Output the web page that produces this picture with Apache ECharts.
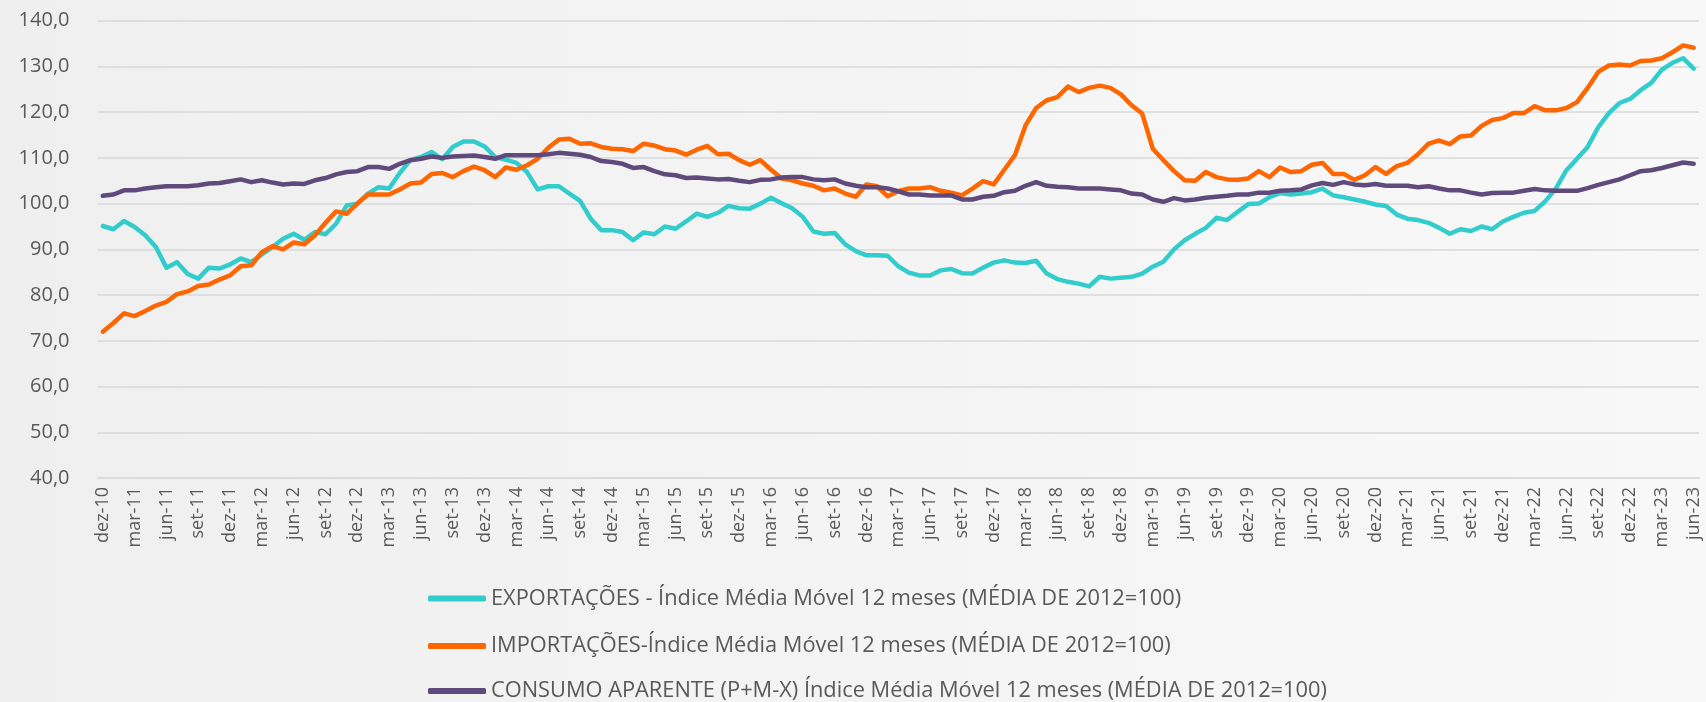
<!DOCTYPE html>
<html lang="pt">
<head>
    <meta charset="UTF-8">
    <title>Índices média móvel 12 meses</title>
    <style>
        * {
            margin: 0;
            padding: 0;
            box-sizing: border-box;
        }

        html, body {
            width: 1706px;
            height: 702px;
            overflow: hidden;
            background: linear-gradient(90deg, #efefef 0%, #f4f4f5 50%, #f8f8f9 100%);
        }

        #chart {
            width: 1706px;
            height: 702px;
        }
    </style>
    <script src="https://cdn.jsdelivr.net/npm/echarts@6/dist/echarts.min.js"></script>
</head>
<body>
<div id="chart"></div>
<script type="text/javascript">
    var meses = [
        'dez-10',
        'jan-11', 'fev-11', 'mar-11', 'abr-11', 'mai-11', 'jun-11', 'jul-11', 'ago-11', 'set-11', 'out-11', 'nov-11', 'dez-11',
        'jan-12', 'fev-12', 'mar-12', 'abr-12', 'mai-12', 'jun-12', 'jul-12', 'ago-12', 'set-12', 'out-12', 'nov-12', 'dez-12',
        'jan-13', 'fev-13', 'mar-13', 'abr-13', 'mai-13', 'jun-13', 'jul-13', 'ago-13', 'set-13', 'out-13', 'nov-13', 'dez-13',
        'jan-14', 'fev-14', 'mar-14', 'abr-14', 'mai-14', 'jun-14', 'jul-14', 'ago-14', 'set-14', 'out-14', 'nov-14', 'dez-14',
        'jan-15', 'fev-15', 'mar-15', 'abr-15', 'mai-15', 'jun-15', 'jul-15', 'ago-15', 'set-15', 'out-15', 'nov-15', 'dez-15',
        'jan-16', 'fev-16', 'mar-16', 'abr-16', 'mai-16', 'jun-16', 'jul-16', 'ago-16', 'set-16', 'out-16', 'nov-16', 'dez-16',
        'jan-17', 'fev-17', 'mar-17', 'abr-17', 'mai-17', 'jun-17', 'jul-17', 'ago-17', 'set-17', 'out-17', 'nov-17', 'dez-17',
        'jan-18', 'fev-18', 'mar-18', 'abr-18', 'mai-18', 'jun-18', 'jul-18', 'ago-18', 'set-18', 'out-18', 'nov-18', 'dez-18',
        'jan-19', 'fev-19', 'mar-19', 'abr-19', 'mai-19', 'jun-19', 'jul-19', 'ago-19', 'set-19', 'out-19', 'nov-19', 'dez-19',
        'jan-20', 'fev-20', 'mar-20', 'abr-20', 'mai-20', 'jun-20', 'jul-20', 'ago-20', 'set-20', 'out-20', 'nov-20', 'dez-20',
        'jan-21', 'fev-21', 'mar-21', 'abr-21', 'mai-21', 'jun-21', 'jul-21', 'ago-21', 'set-21', 'out-21', 'nov-21', 'dez-21',
        'jan-22', 'fev-22', 'mar-22', 'abr-22', 'mai-22', 'jun-22', 'jul-22', 'ago-22', 'set-22', 'out-22', 'nov-22', 'dez-22',
        'jan-23', 'fev-23', 'mar-23', 'abr-23', 'mai-23', 'jun-23'
    ]

    // índices média móvel 12 meses (média de 2012 = 100)
    var exportacoes = [
        95.1, 94.4, 96.2, 94.9, 93.1, 90.5, 86.0, 87.2, 84.6, 83.6, 86.0,
        85.8, 86.7, 88.0, 87.2, 88.9, 90.5, 92.3, 93.4, 92.1, 93.8,
        93.3, 95.6, 99.6, 100.0, 102.2, 103.6, 103.3, 106.7, 109.5, 110.2,
        111.3, 109.7, 112.4, 113.6, 113.6, 112.5, 110.2, 109.6, 108.9, 106.9,
        103.1, 103.8, 103.8, 102.2, 100.6, 96.7, 94.2, 94.2, 93.8, 92.0,
        93.7, 93.3, 95.0, 94.5, 96.1, 97.8, 97.1, 98.0, 99.5, 99.0,
        98.9, 100.0, 101.3, 100.1, 99.0, 97.1, 93.9, 93.4, 93.6, 91.1,
        89.6, 88.7, 88.7, 88.6, 86.3, 84.9, 84.3, 84.3, 85.4, 85.7,
        84.8, 84.7, 86.0, 87.1, 87.6, 87.1, 87.0, 87.5, 84.7, 83.5,
        82.9, 82.5, 81.9, 84.0, 83.6, 83.8, 84.0, 84.7, 86.2, 87.3,
        90.0, 92.0, 93.4, 94.7, 96.9, 96.4, 98.2, 99.9, 100.0, 101.4,
        102.3, 102.0, 102.2, 102.5, 103.3, 101.8, 101.4, 100.9, 100.4, 99.8,
        99.5, 97.6, 96.7, 96.4, 95.8, 94.7, 93.4, 94.4, 94.0, 95.0,
        94.4, 96.1, 97.1, 98.0, 98.4, 100.5, 103.3, 107.3, 109.8, 112.4,
        116.7, 119.8, 122.0, 122.9, 124.8, 126.4, 129.3, 130.8, 131.8, 129.5
    ]

    var importacoes = [
        72.0, 73.9, 76.0, 75.4, 76.5, 77.7, 78.5, 80.2, 80.8, 82.0, 82.3,
        83.4, 84.3, 86.3, 86.5, 89.4, 90.7, 90.0, 91.5, 91.1, 93.1,
        95.8, 98.3, 97.8, 100.0, 102.0, 102.0, 102.0, 103.1, 104.4, 104.6,
        106.5, 106.7, 105.8, 107.1, 108.1, 107.3, 105.8, 107.9, 107.4, 108.4,
        109.8, 112.2, 114.0, 114.2, 113.1, 113.2, 112.4, 112.0, 111.9, 111.5,
        113.1, 112.7, 111.9, 111.6, 110.7, 111.8, 112.6, 110.8, 110.9, 109.5,
        108.5, 109.5, 107.4, 105.5, 105.1, 104.4, 103.9, 102.9, 103.3, 102.2,
        101.5, 104.2, 103.8, 101.6, 102.7, 103.3, 103.3, 103.6, 102.8, 102.4,
        101.8, 103.3, 104.9, 104.2, 107.4, 110.6, 117.1, 120.9, 122.6, 123.3,
        125.6, 124.4, 125.3, 125.8, 125.3, 123.9, 121.5, 119.7, 112.0, 109.5,
        107.1, 105.1, 105.0, 106.9, 105.8, 105.3, 105.2, 105.5, 107.1, 105.8,
        107.9, 106.9, 107.1, 108.5, 108.9, 106.5, 106.5, 105.2, 106.2, 108.0,
        106.5, 108.2, 108.9, 110.8, 113.1, 113.8, 113.0, 114.7, 114.9, 117.0,
        118.3, 118.7, 119.8, 119.8, 121.3, 120.4, 120.4, 120.9, 122.2, 125.3,
        128.8, 130.2, 130.4, 130.2, 131.2, 131.3, 131.8, 133.1, 134.6, 134.1
    ]

    var consumoAparente = [
        101.7, 102.0, 102.9, 102.9, 103.3, 103.6, 103.8, 103.8, 103.8, 104.0, 104.4,
        104.5, 104.9, 105.3, 104.7, 105.1, 104.6, 104.2, 104.4, 104.3, 105.1,
        105.6, 106.4, 106.9, 107.1, 108.0, 108.0, 107.6, 108.7, 109.5, 109.8,
        110.3, 110.0, 110.3, 110.4, 110.5, 110.2, 109.8, 110.6, 110.6, 110.6,
        110.6, 110.8, 111.1, 110.9, 110.7, 110.2, 109.3, 109.1, 108.7, 107.8,
        108.0, 107.1, 106.4, 106.2, 105.6, 105.7, 105.5, 105.3, 105.4, 105.0,
        104.7, 105.2, 105.3, 105.7, 105.8, 105.8, 105.3, 105.1, 105.3, 104.4,
        103.9, 103.6, 103.6, 103.3, 102.7, 102.0, 102.0, 101.8, 101.8, 101.8,
        100.9, 100.9, 101.5, 101.7, 102.5, 102.8, 103.9, 104.7, 103.9, 103.7,
        103.6, 103.3, 103.3, 103.3, 103.1, 102.9, 102.2, 102.0, 100.9, 100.4,
        101.2, 100.7, 100.9, 101.3, 101.5, 101.7, 102.0, 102.0, 102.4, 102.4,
        102.8, 102.9, 103.1, 104.0, 104.5, 104.1, 104.7, 104.2, 104.0, 104.3,
        103.9, 103.9, 103.9, 103.6, 103.8, 103.3, 102.9, 102.9, 102.4, 102.0,
        102.3, 102.4, 102.4, 102.8, 103.2, 102.9, 102.8, 102.8, 102.8, 103.4,
        104.1, 104.7, 105.3, 106.2, 107.1, 107.3, 107.8, 108.4, 109.0, 108.7
    ]

    var nomes = [
        'EXPORTAÇÕES - Índice Média Móvel 12 meses (MÉDIA DE 2012=100)',
        'IMPORTAÇÕES-Índice Média Móvel 12 meses (MÉDIA DE 2012=100)',
        'CONSUMO APARENTE (P+M-X) Índice Média Móvel 12 meses (MÉDIA DE 2012=100)'
    ]

    var cores = ['#33cccc', '#ff6600', '#604a7b']
    var fonte = '"Open Sans", "Noto Sans", sans-serif'

    function linha(nome, dados, cor) {
        return {
            name: nome,
            type: 'line',
            data: dados,
            symbol: 'none',
            color: cor,
            lineStyle: {width: 4.5, color: cor, cap: 'round', join: 'round'},
            animation: false
        }
    }

    // one legend per row, so the three entries stay stacked
    function legenda(nome, topo) {
        return {
            data: [nome],
            left: 428,
            top: topo,
            padding: 0,
            icon: 'roundRect',
            itemWidth: 58,
            itemHeight: 6,
            textStyle: {
                fontFamily: fonte,
                fontSize: 21.8,
                lineHeight: 26,
                color: '#595959'
            }
        }
    }

    var myChart = echarts.init(document.getElementById('chart'))
    var option = {
        backgroundColor: 'transparent',
        textStyle: {fontFamily: fonte},
        grid: {
            left: 97.5,
            right: 7,
            top: 20.7,
            bottom: 224
        },
        legend: [
            legenda(nomes[0], 585.5),
            legenda(nomes[1], 633),
            legenda(nomes[2], 678)
        ],
        xAxis: {
            type: 'category',
            data: meses,
            boundaryGap: true,
            axisLine: {lineStyle: {color: '#d9d9d9', width: 1.5}},
            axisTick: {
                interval: 2,
                length: 6,
                lineStyle: {color: '#d9d9d9', width: 1.5}
            },
            axisLabel: {
                interval: 2,
                rotate: 90,
                margin: 9,
                fontSize: 18,
                fontFamily: fonte,
                color: '#595959'
            }
        },
        yAxis: {
            type: 'value',
            min: 40,
            max: 140,
            interval: 10,
            axisLine: {show: false},
            axisTick: {show: false},
            splitLine: {lineStyle: {color: '#d9d9d9', width: 1.5}},
            axisLabel: {
                margin: 28,
                fontSize: 20,
                fontFamily: fonte,
                color: '#595959',
                formatter: function (v) {
                    return v.toFixed(1).replace('.', ',')
                }
            }
        },
        series: [
            linha(nomes[0], exportacoes, cores[0]),
            linha(nomes[1], importacoes, cores[1]),
            linha(nomes[2], consumoAparente, cores[2])
        ]
    }
    myChart.setOption(option)
</script>
</body>
</html>
